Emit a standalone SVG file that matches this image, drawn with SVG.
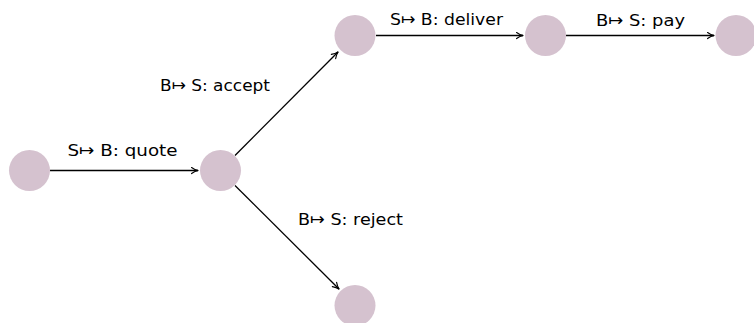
<svg xmlns="http://www.w3.org/2000/svg" width="754" height="323" viewBox="0 0 754 323">
  <style>
    .state { fill: #d5c2cf; }
    .edge { stroke: #000; stroke-width: 1.3; fill: none; marker-end: url(#tip); }
    .lbl { font-family: "DejaVu Sans", "Liberation Sans", sans-serif; font-size: 16.5px; fill: #000; }
  </style>
  <defs>
    <marker id="tip" viewBox="0 0 10 10" refX="9" refY="5" markerWidth="8" markerHeight="8" markerUnits="userSpaceOnUse" orient="auto">
      <path d="M1,1.2 Q5,4.2 9.5,5 Q5,5.8 1,8.8" fill="none" stroke="#000" stroke-width="1.4" stroke-linecap="round"/>
    </marker>
  </defs>

  <g id="connectors">
    <line class="edge" x1="50" y1="170.5" x2="198" y2="170.5"/>
    <line class="edge" x1="235" y1="155.5" x2="338" y2="52"/>
    <line class="edge" x1="235" y1="185.5" x2="339" y2="289"/>
    <line class="edge" x1="376" y1="35.5" x2="523" y2="35.5"/>
    <line class="edge" x1="566" y1="35.5" x2="714" y2="35.5"/>
  </g>

  <g id="labels">
    <text class="lbl" x="67.5" y="155.7" textLength="110" lengthAdjust="spacingAndGlyphs">S↦ B: quote</text>
    <text class="lbl" x="160" y="90.5" textLength="110" lengthAdjust="spacingAndGlyphs">B↦ S: accept</text>
    <text class="lbl" x="298" y="225" textLength="105" lengthAdjust="spacingAndGlyphs">B↦ S: reject</text>
    <text class="lbl" x="390" y="25" textLength="113" lengthAdjust="spacingAndGlyphs">S↦ B: deliver</text>
    <text class="lbl" x="596" y="25.5" textLength="89" lengthAdjust="spacingAndGlyphs">B↦ S: pay</text>
  </g>

  <g id="n0"><circle class="state" cx="29.5" cy="170.5" r="20.5"/></g>
  <g id="n1"><circle class="state" cx="220.5" cy="170.5" r="20.5"/></g>
  <g id="n2"><circle class="state" cx="355" cy="35.5" r="20.5"/></g>
  <g id="n3"><circle class="state" cx="545.5" cy="35.5" r="20.5"/></g>
  <g id="n4"><circle class="state" cx="736" cy="35.5" r="20.5"/></g>
  <g id="n5"><circle class="state" cx="355" cy="305.5" r="20.5"/></g>
</svg>
